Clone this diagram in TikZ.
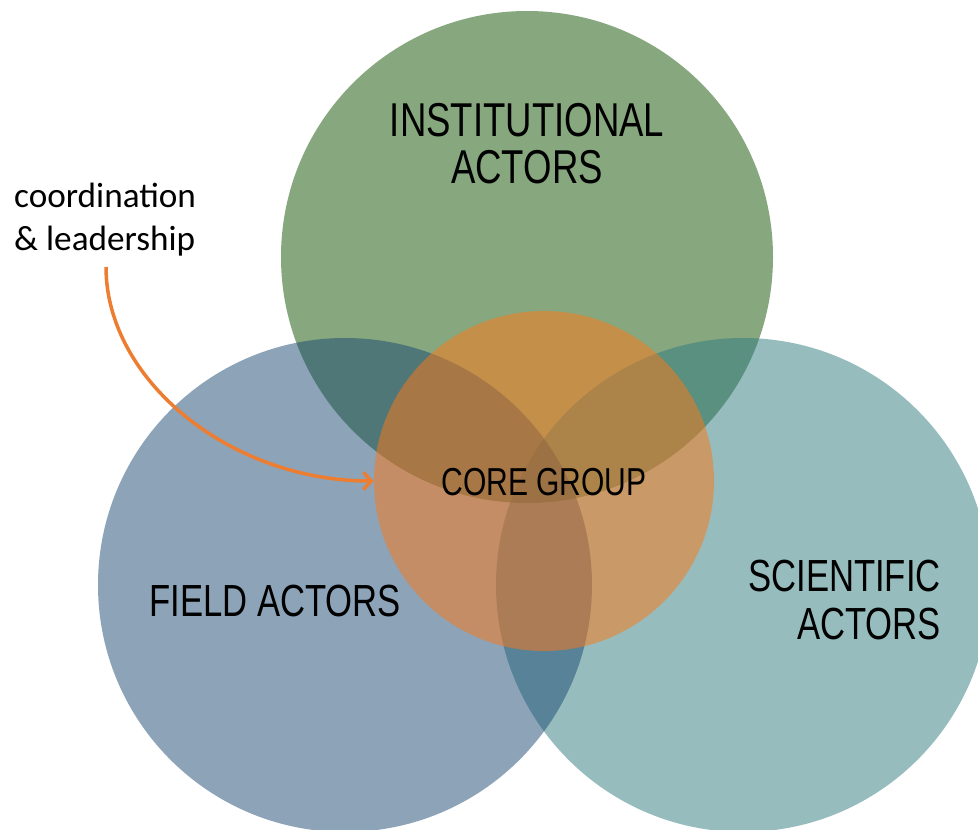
\documentclass[tikz,border=0pt]{standalone}
\usepackage{fontspec}
\setmainfont{Carlito}
\newfontfamily\labfont[FakeStretch=0.77]{Liberation Sans}
\usetikzlibrary{arrows.meta}
\definecolor{instc}{RGB}{17,81,0}
\definecolor{fieldc}{RGB}{27,73,115}
\definecolor{scic}{RGB}{47,123,127}
\definecolor{corec}{RGB}{255,120,20}
\definecolor{arrowc}{RGB}{237,125,49}
\tikzset{
  venn/.style={circle, inner sep=0pt, fill opacity=0.5, draw=none},
  biglabel/.style={inner sep=0pt, text=black},
}
\begin{document}
\begin{tikzpicture}[x=1pt,y=-1pt]
\useasboundingbox (0,0) rectangle (978,830);
\clip (0,0) rectangle (978,830);
\fill[white] (0,0) rectangle (978,830);
\node[venn, fill=instc, minimum size=492pt] (inst) at (527,257) {};
\node[venn, fill=scic, minimum size=494pt] (sci) at (743,585) {};
\node[venn, fill=fieldc, minimum size=494pt] (field) at (345,585) {};
\node[venn, fill=corec, minimum size=340pt] (core) at (544,481) {};
\node[biglabel, anchor=north, align=center, font=\labfont\fontsize{47.5}{47}\selectfont] (instlab) at (527,103) {INSTITUTIONAL\\ACTORS};
\node[biglabel, anchor=north, font=\labfont\fontsize{45}{48}\selectfont] (fieldlab) at (275,585) {FIELD ACTORS};
\node[biglabel, anchor=north east, align=right, font=\labfont\fontsize{45}{48}\selectfont] (scilab) at (941,560) {SCIENTIFIC\\ACTORS};
\node[biglabel, anchor=north, font=\labfont\fontsize{39}{40}\selectfont] (corelab) at (544,468) {CORE GROUP};
\node[inner sep=0pt, anchor=north west, align=left, font=\fontsize{35.2}{42.5}\selectfont] (coord) at (14,183) {coordination\\\& leadership};
\coordinate (arrstart) at (106,267);
\draw[arrowc, line width=3.5pt, -{Straight Barb[length=8pt,width=17pt,line width=3.5pt]}] (arrstart) .. controls (106,380) and (230,481) .. (core.west);
\end{tikzpicture}
\end{document}
